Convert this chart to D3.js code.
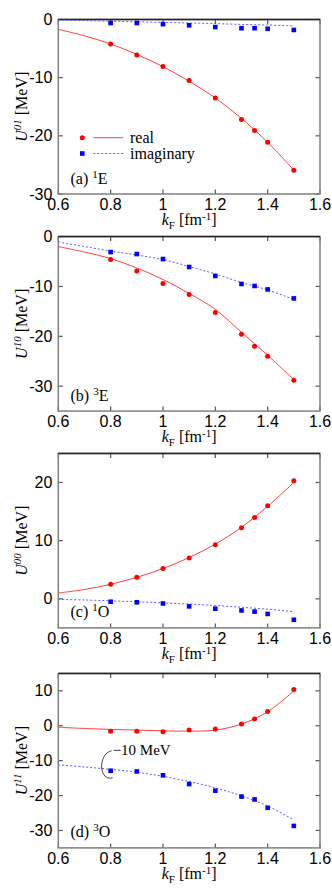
<!DOCTYPE html>
<html>
<head>
<meta charset="utf-8">
<script src="https://cdnjs.cloudflare.com/ajax/libs/d3/7.8.5/d3.min.js"></script>
<style>
  body { margin: 0; background: #fff; }
  .tick-label { font-family: "Liberation Sans", Arial, sans-serif; font-size: 16px; fill: #000; }
  .serif { font-family: "Liberation Serif", "Times New Roman", serif; fill: #000; }
</style>
</head>
<body>
<div id="chart"></div>
<script>
// Data (kF in fm^-1, U in MeV)
const KF_POINTS = [0.8, 0.9, 1.0, 1.1, 1.2, 1.3, 1.35, 1.4, 1.5];
const KF_FIT = [0.6, 0.7, 0.8, 0.9, 1.0, 1.1, 1.2, 1.3, 1.4, 1.5];
const X_TICKS = [0.6, 0.8, 1.0, 1.2, 1.4, 1.6];

const REAL_A = [-4.2, -6.1, -8.1, -10.5, -13.5, -17.2, -19.1, -21.1, -25.9];
const IMAG_A = [-0.6, -0.6, -0.8, -1.0, -1.3, -1.5, -1.5, -1.6, -1.8];
const REAL_FIT_A = [-1.7, -2.8, -4.2, -6.0, -8.1, -10.6, -13.5, -17.0, -21.1, -25.9];
const IMAG_FIT_A = [-0.1, -0.2, -0.3, -0.4, -0.5, -0.6, -0.7, -0.85, -0.95, -1.1];

const REAL_B = [-4.6, -6.9, -9.4, -11.6, -15.2, -19.6, -22.0, -24.0, -28.8];
const IMAG_B = [-3.1, -3.5, -4.5, -6.1, -7.9, -9.5, -9.9, -10.6, -12.4];
const REAL_FIT_B = [-2.0, -3.1, -4.4, -6.3, -8.6, -11.4, -14.6, -19.2, -23.8, -28.7];
const IMAG_FIT_B = [-1.1, -2.0, -2.9, -3.7, -4.6, -6.0, -7.5, -9.2, -10.7, -12.6];

const REAL_C = [2.5, 3.7, 5.2, 7.0, 9.3, 12.2, 14.0, 16.0, 20.3];
const IMAG_C = [-0.5, -0.6, -0.8, -1.3, -1.7, -2.0, -2.2, -2.6, -3.6];
const REAL_FIT_C = [1.0, 1.6, 2.5, 3.7, 5.2, 7.1, 9.4, 12.3, 15.9, 20.0];
const IMAG_FIT_C = [-0.1, -0.2, -0.35, -0.5, -0.7, -0.9, -1.15, -1.45, -1.8, -2.2];

const REAL_D = [-1.6, -1.6, -1.7, -1.2, -0.9, 0.5, 1.9, 4.1, 10.4];
const IMAG_D = [-12.9, -13.1, -14.2, -16.7, -18.6, -20.3, -21.1, -23.5, -28.7];
const REAL_FIT_D = [-0.4, -0.8, -1.05, -1.25, -1.45, -1.55, -1.25, 0.5, 4.0, 10.0];
const IMAG_FIT_D = [-11.2, -11.8, -12.5, -13.3, -14.5, -16.0, -17.8, -20.1, -23.0, -27.0];

const Y_DOMAINS = [[-30, 0], [-35, 0], [-5, 25], [-35, 15]];
const Y_TICKS = [[0, -10, -20, -30], [0, -10, -20, -30], [0, 10, 20], [10, 0, -10, -20, -30]];
const Y_SUPERS = ["01", "10", "00", "11"];
const PANEL_TAGS = [["(a) ", "1", "E"], ["(b) ", "3", "E"], ["(c) ", "1", "O"], ["(d) ", "3", "O"]];

// Layout
const WIDTH = 332, HEIGHT = 890;
const PLOT_LEFT = 58.3, PLOT_RIGHT = 320;
const PANEL_TOPS = [19.5, 236.6, 453.4, 673.4];
const PLOT_H = 174.5;
const RED = "#ff0000", BLUE = "#0000ff";

const svg = d3.select("#chart").append("svg")
  .attr("width", WIDTH).attr("height", HEIGHT);

const X_SCALE = d3.scaleLinear().domain([0.6, 1.6]).range([PLOT_LEFT, PLOT_RIGHT]);

const panels = [
  {real: REAL_A, imag: IMAG_A, realFit: REAL_FIT_A, imagFit: IMAG_FIT_A},
  {real: REAL_B, imag: IMAG_B, realFit: REAL_FIT_B, imagFit: IMAG_FIT_B},
  {real: REAL_C, imag: IMAG_C, realFit: REAL_FIT_C, imagFit: IMAG_FIT_C},
  {real: REAL_D, imag: IMAG_D, realFit: REAL_FIT_D, imagFit: IMAG_FIT_D}
];

panels.forEach((p, i) => {
  const top = PANEL_TOPS[i], bottom = top + PLOT_H;
  const yScale = d3.scaleLinear().domain(Y_DOMAINS[i]).range([bottom, top]);
  const g = svg.append("g");

  // ticks (inward, mirrored)
  const tickLen = 4.5;
  X_TICKS.forEach(t => {
    const x = X_SCALE(t);
    g.append("line").attr("x1", x).attr("x2", x).attr("y1", bottom).attr("y2", bottom - tickLen)
      .attr("stroke", "#555").attr("stroke-width", 1.2);
    g.append("line").attr("x1", x).attr("x2", x).attr("y1", top).attr("y2", top + tickLen)
      .attr("stroke", "#555").attr("stroke-width", 1.2);
    g.append("text").attr("class", "tick-label")
      .attr("x", x).attr("y", bottom + 16).attr("text-anchor", "middle")
      .text(t === 1 ? "1" : t.toFixed(1));
  });
  Y_TICKS[i].forEach(t => {
    const y = yScale(t);
    g.append("line").attr("x1", PLOT_LEFT).attr("x2", PLOT_LEFT + tickLen).attr("y1", y).attr("y2", y)
      .attr("stroke", "#555").attr("stroke-width", 1.2);
    g.append("line").attr("x1", PLOT_RIGHT).attr("x2", PLOT_RIGHT - tickLen).attr("y1", y).attr("y2", y)
      .attr("stroke", "#555").attr("stroke-width", 1.2);
    g.append("text").attr("class", "tick-label")
      .attr("x", PLOT_LEFT - 6).attr("y", y + 5.5).attr("text-anchor", "end")
      .text(t);
  });

  // frame
  g.append("rect").attr("x", PLOT_LEFT).attr("y", top)
    .attr("width", PLOT_RIGHT - PLOT_LEFT).attr("height", PLOT_H)
    .attr("fill", "none").attr("stroke", "#808080").attr("stroke-width", 1.5);
  g.append("line").attr("x1", PLOT_LEFT).attr("x2", PLOT_RIGHT).attr("y1", top).attr("y2", top)
    .attr("stroke", "#222").attr("stroke-width", 1.5);

  // fit curves
  const line = d3.line()
    .x((d, j) => X_SCALE(KF_FIT[j]))
    .y(d => yScale(d))
    .curve(d3.curveCatmullRom);
  g.append("path").attr("d", line(p.imagFit))
    .attr("fill", "none").attr("stroke", "#5a5aff").attr("stroke-width", 1)
    .attr("stroke-dasharray", "2,2");
  g.append("path").attr("d", line(p.realFit))
    .attr("fill", "none").attr("stroke", "#ff4040").attr("stroke-width", 1);

  // points
  g.selectAll(".sq").data(p.imag).enter().append("rect")
    .attr("x", (d, j) => X_SCALE(KF_POINTS[j]) - 2.3)
    .attr("y", d => yScale(d) - 2.3)
    .attr("width", 4.6).attr("height", 4.6)
    .attr("fill", BLUE);
  g.selectAll(".pt").data(p.real).enter().append("circle")
    .attr("cx", (d, j) => X_SCALE(KF_POINTS[j]))
    .attr("cy", d => yScale(d))
    .attr("r", 2.5)
    .attr("fill", RED);

  // y label
  const yl = g.append("text").attr("class", "serif")
    .attr("transform", "translate(27," + ((top + bottom) / 2) + ") rotate(-90)")
    .attr("text-anchor", "middle").attr("font-size", "16px");
  yl.append("tspan").attr("font-style", "italic").text("U");
  yl.append("tspan").attr("font-style", "italic").attr("font-size", "11px").attr("dy", -6).text(Y_SUPERS[i]);
  yl.append("tspan").attr("dy", 6).text(" [MeV]");

  // x label
  const xl = g.append("text").attr("class", "serif")
    .attr("x", (PLOT_LEFT + PLOT_RIGHT) / 2).attr("y", bottom + 31)
    .attr("text-anchor", "middle").attr("font-size", "16px");
  xl.append("tspan").attr("font-style", "italic").text("k");
  xl.append("tspan").attr("font-size", "11px").attr("dy", 4).text("F");
  xl.append("tspan").attr("dy", -4).text(" [fm");
  xl.append("tspan").attr("font-size", "11px").attr("dy", -5).text("-1");
  xl.append("tspan").attr("dy", 5).text("]");

  // panel tag
  const tag = PANEL_TAGS[i];
  const tl = g.append("text").attr("class", "serif")
    .attr("x", 70.5).attr("y", bottom - 10.5).attr("font-size", "16px");
  tl.append("tspan").text(tag[0]);
  tl.append("tspan").attr("font-size", "11px").attr("dy", -6).text(tag[1]);
  tl.append("tspan").attr("dy", 6).text(tag[2]);

  // legend (panel a)
  if (i === 0) {
    const rows = [
      {label: "real", color: RED, lineColor: "#ff4040", dash: null, y: 137.7},
      {label: "imaginary", color: BLUE, lineColor: "#5a5aff", dash: "2,2", y: 153.5}
    ];
    rows.forEach((r, k) => {
      if (k === 0) {
        g.append("circle").attr("cx", 82.3).attr("cy", r.y).attr("r", 2.5).attr("fill", r.color);
      } else {
        g.append("rect").attr("x", 80).attr("y", r.y - 2.3).attr("width", 4.6).attr("height", 4.6).attr("fill", r.color);
      }
      g.append("line").attr("x1", 93.3).attr("x2", 123.3).attr("y1", r.y).attr("y2", r.y)
        .attr("stroke", r.lineColor).attr("stroke-width", 1).attr("stroke-dasharray", r.dash);
      g.append("text").attr("class", "serif").attr("x", 130).attr("y", r.y + 5)
        .attr("font-size", "16px").text(r.label);
    });
  }

  // annotation (panel d)
  if (i === 3) {
    const ax = X_SCALE(0.8), ay = yScale(-12.9);
    g.append("path")
      .attr("d", "M" + (ax + 1) + "," + (ay - 20) +
        " C" + (ax - 13) + "," + (ay - 17) + " " + (ax - 12) + "," + (ay + 11) + " " + (ax + 2) + "," + (ay + 7))
      .attr("fill", "none").attr("stroke", "#444").attr("stroke-width", 1);
    g.append("text").attr("class", "serif")
      .attr("x", ax + 2).attr("y", ay - 15.5).attr("font-size", "15px")
      .text("\u221210 MeV");
  }
});
</script>
</body>
</html>
